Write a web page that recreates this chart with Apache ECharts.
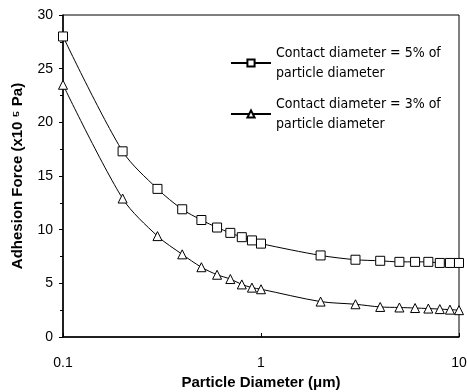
<!DOCTYPE html>
<html>
<head>
<meta charset="utf-8">
<script src="https://cdn.jsdelivr.net/npm/echarts@6/dist/echarts.min.js"></script>
<style>
  html, body { margin: 0; padding: 0; background: #fff; }
  #chart { width: 467px; height: 392px; }
</style>
</head>
<body>
<div id="chart"></div>
<script>
// particle diameter (um)
var diameters = [0.1, 0.2, 0.3, 0.4, 0.5, 0.6, 0.7, 0.8, 0.9, 1, 2, 3, 4, 5, 6, 7, 8, 9, 10];
// adhesion force (x10^5 Pa)
var force5 = [28.0, 17.3, 13.8, 11.9, 10.9, 10.2, 9.7, 9.3, 9.0, 8.7, 7.6, 7.2, 7.1, 7.0, 7.0, 7.0, 6.9, 6.9, 6.9];
var force3 = [23.5, 12.9, 9.4, 7.7, 6.5, 5.8, 5.4, 4.9, 4.6, 4.45, 3.3, 3.05, 2.8, 2.75, 2.7, 2.65, 2.6, 2.55, 2.5];
var names = ['Contact diameter = 5% of\nparticle diameter', 'Contact diameter = 3% of\nparticle diameter'];

function pairs(ys) {
  return diameters.map(function (d, i) { return [d, ys[i]]; });
}

var chart = echarts.init(document.getElementById('chart'));

var lineSeries = function (name, ys, symbol) {
  return {
    name: name,
    type: 'line',
    data: pairs(ys),
    smooth: 0.3,
    symbol: symbol,
    symbolSize: 9,
    lineStyle: { color: '#000', width: 1 },
    itemStyle: { color: '#fff', borderColor: '#000', borderWidth: 1 },
    animation: false
  };
};

chart.setOption({
  animation: false,
  grid: {
    left: 63, right: 8, top: 15, bottom: 55,
    outerBoundsMode: 'none',
    show: true, borderColor: '#000', borderWidth: 1
  },
  legend: {
    left: 230, top: 43,
    padding: 0,
    orient: 'vertical',
    itemGap: 11,
    itemWidth: 40,
    itemHeight: 9,
    textStyle: { fontFamily: '"DejaVu Sans Condensed", "Liberation Sans"', fontSize: 14, color: '#000', lineHeight: 20 },
    data: names
  },
  xAxis: {
    type: 'log',
    logBase: 10,
    min: 0.1,
    max: 10,
    name: 'Particle Diameter (\u03bcm)',
    nameLocation: 'middle',
    nameGap: 38,
    nameTextStyle: { fontFamily: 'Liberation Sans', fontWeight: 'bold', fontSize: 15, color: '#000' },
    axisLine: { lineStyle: { color: '#000', width: 1.5 } },
    axisTick: { inside: true, length: 4, lineStyle: { color: '#000' } },
    axisLabel: { fontFamily: 'Liberation Sans', fontSize: 14, color: '#000', margin: 19 },
    splitLine: { show: false }
  },
  yAxis: {
    type: 'value',
    min: 0,
    max: 30,
    interval: 5,
    name: 'Adhesion Force (x10 \u2075 Pa)',
    nameLocation: 'middle',
    nameGap: 38,
    nameTextStyle: { fontFamily: 'Liberation Sans', fontWeight: 'bold', fontSize: 15, color: '#000' },
    axisLine: { show: true, lineStyle: { color: '#000', width: 1.5 } },
    axisTick: { show: true, length: 4, lineStyle: { color: '#000' } },
    minorTick: { show: true, splitNumber: 2, length: 3, lineStyle: { color: '#000' } },
    axisLabel: { fontFamily: 'Liberation Sans', fontSize: 14, color: '#000', margin: 10 },
    splitLine: { show: false }
  },
  series: [
    lineSeries(names[0], force5, 'rect'),
    lineSeries(names[1], force3, 'triangle')
  ]
});
</script>
</body>
</html>
